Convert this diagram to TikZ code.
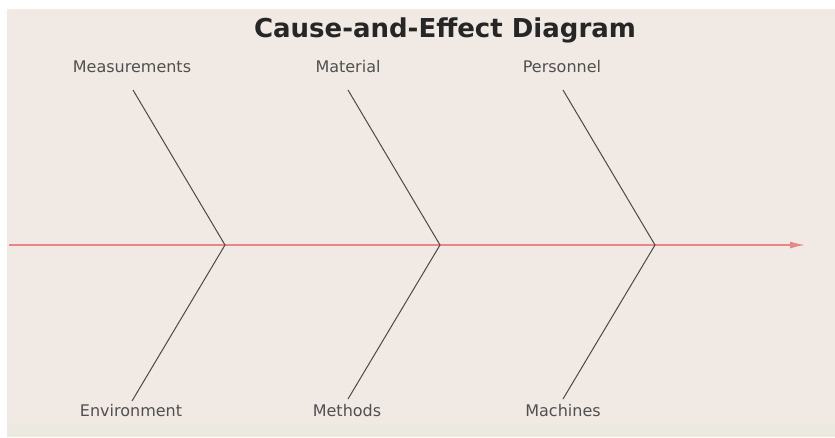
\documentclass[tikz,border=0pt]{standalone}
\usepackage{fontspec}
\setmainfont{DejaVu Sans}
\usetikzlibrary{arrows.meta}
\definecolor{bg}{HTML}{F1E9E3}
\definecolor{bgfoot}{HTML}{ECEAE0}
\definecolor{spine}{HTML}{E8868A}
\definecolor{bone}{HTML}{4A4A4A}
\definecolor{lbl}{HTML}{505050}
\tikzset{
  bonestyle/.style={draw=bone, line width=1pt},
  spinestyle/.style={draw=spine, line width=2pt, -{Latex[length=16pt,width=7pt]}},
  cause/.style={font=\fontsize{16}{18}\selectfont, text=lbl, inner sep=0pt},
  titlestyle/.style={font=\fontsize{26}{29}\selectfont\bfseries, text=black!85, inner sep=0pt}
}
\begin{document}
\begin{tikzpicture}[x=1pt,y=-1pt]
\useasboundingbox (0,0) rectangle (835,437);
\fill[white] (0,0) rectangle (835,437);
\fill[bg] (7,9) rectangle (835,437);
\fill[bgfoot] (7,425) rectangle (835,437);
\node[titlestyle, anchor=base] (title) at (445,37) {Cause-and-Effect Diagram};
% spine
\coordinate (s0) at (9,245);
\coordinate (head) at (806,245);
\coordinate (j1) at (225,245);
\coordinate (j2) at (440,245);
\coordinate (j3) at (655,245);
\draw[spinestyle] (s0) -- (head);
% bone ends
\coordinate (u1) at (133,90);
\coordinate (u2) at (348,90);
\coordinate (u3) at (563,90);
\coordinate (d1) at (132,401);
\coordinate (d2) at (348,399);
\coordinate (d3) at (563,399);
\draw[bonestyle] (u1) -- (j1) -- (d1);
\draw[bonestyle] (u2) -- (j2) -- (d2);
\draw[bonestyle] (u3) -- (j3) -- (d3);
% labels
\node[cause] (meas) at (132,67) {Measurements};
\node[cause] (mat) at (348,67) {Material};
\node[cause] (pers) at (562,67) {Personnel};
\node[cause] (env) at (131,411) {Environment};
\node[cause] (meth) at (347,411) {Methods};
\node[cause] (mach) at (563,411) {Machines};
\end{tikzpicture}
\end{document}
